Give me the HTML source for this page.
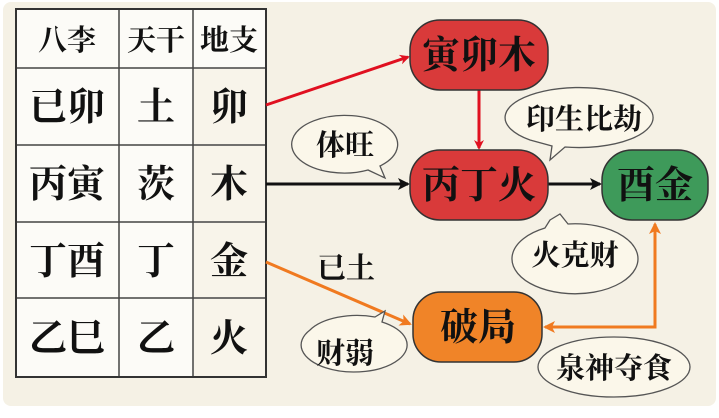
<!DOCTYPE html>
<html><head><meta charset="utf-8"><style>
html,body{margin:0;padding:0;background:#fff;}
body{width:719px;height:413px;position:relative;overflow:hidden;}
svg text{font-family:"Liberation Serif","Noto Serif CJK SC",serif;font-weight:bold;}
</style></head><body>
<svg width="719" height="413" viewBox="0 0 719 413" xmlns="http://www.w3.org/2000/svg">
<defs>
<marker id="ar" markerWidth="10" markerHeight="10" refX="8" refY="5" orient="auto" markerUnits="userSpaceOnUse"><path d="M0,0 L10,5 L0,10 L3,5 z" fill="#e01020"/></marker>
<marker id="ab" markerWidth="12" markerHeight="12" refX="10" refY="6" orient="auto" markerUnits="userSpaceOnUse"><path d="M0,0 L12,6 L0,12 L3,6 z" fill="#111"/></marker>
<marker id="ao" markerWidth="12" markerHeight="12" refX="10" refY="6" orient="auto" markerUnits="userSpaceOnUse"><path d="M0,0 L12,6 L0,12 L3,6 z" fill="#f07a20"/></marker>
</defs>
<rect x="3" y="2" width="713" height="404" rx="8" fill="#f5f1e5"/>
<!-- table -->
<rect x="16" y="9" width="250" height="368" fill="#fcfbf7" stroke="#333" stroke-width="2"/>
<rect x="193" y="68" width="73" height="309" fill="#f8f4ea"/>
<g stroke="#444" stroke-width="1.5">
<line x1="119" y1="9" x2="119" y2="377"/><line x1="193" y1="9" x2="193" y2="377"/>
<line x1="16" y1="68" x2="266" y2="68"/><line x1="16" y1="145" x2="266" y2="145"/>
<line x1="16" y1="222" x2="266" y2="222"/><line x1="16" y1="298" x2="266" y2="298"/>
</g>
<rect x="16" y="9" width="250" height="368" fill="none" stroke="#333" stroke-width="2"/>
<g font-size="29" text-anchor="middle" fill="#111">
<text x="67" y="50">八李</text><text x="156" y="50">天干</text><text x="229" y="50">地支</text>
</g>
<g font-size="38" text-anchor="middle" fill="#111">
<text x="67" y="120">已卯</text><text x="156" y="120">土</text><text x="229" y="120">卯</text>
<text x="67" y="197">丙寅</text><text x="156" y="197">茨</text><text x="229" y="197">木</text>
<text x="67" y="274">丁酉</text><text x="156" y="274">丁</text><text x="229" y="274">金</text>
<text x="67" y="351">乙巳</text><text x="156" y="351">乙</text><text x="229" y="351">火</text>
</g>
<!-- connectors -->
<line x1="266" y1="105" x2="408" y2="57" stroke="#e01020" stroke-width="3" marker-end="url(#ar)"/>
<line x1="479" y1="90" x2="479" y2="148" stroke="#e01020" stroke-width="3" marker-end="url(#ar)"/>
<line x1="266" y1="184" x2="408" y2="184" stroke="#111" stroke-width="3" marker-end="url(#ab)"/>
<line x1="548" y1="184" x2="600" y2="184" stroke="#111" stroke-width="3" marker-end="url(#ab)"/>
<line x1="266" y1="262" x2="410" y2="324" stroke="#f07a20" stroke-width="3" marker-end="url(#ao)"/>
<polyline points="600,327 655,327 655,224" fill="none" stroke="#f07a20" stroke-width="3" marker-end="url(#ao)"/>
<line x1="602" y1="327" x2="545" y2="327" stroke="#f07a20" stroke-width="3" marker-end="url(#ao)"/>
<!-- bubbles -->
<g fill="#fbf7ea" stroke="#555" stroke-width="1.3">
<path d="M300,160 A53,29 0 1 1 380,166 L385,178 L368,170 A53,29 0 0 1 300,160 z"/>
<path d="M530,140 A74,30 0 1 1 565,147 L550,160 L552,146 z"/>
<path d="M550,220 L560,214 L568,224 A63,35 0 1 1 545,228 z"/>
<path d="M310,330 A53,27 0 0 1 375,317 L385,311 L382,322 A53,27 0 1 1 310,330 z"/>
<ellipse cx="614" cy="367" rx="76" ry="30"/>
</g>
<g font-size="29" text-anchor="middle" fill="#111">
<text x="345" y="155">体旺</text>
<text x="584" y="129">印生比劫</text>
<text x="575" y="265">火克财</text>
<text x="345" y="363">财弱</text>
<text x="614" y="378">泉神夺食</text>
<text x="346" y="278">已土</text>
</g>
<!-- nodes -->
<rect x="410" y="20" width="138" height="70" rx="30" fill="#d93a3a" stroke="#333" stroke-width="1.5"/>
<rect x="410" y="150" width="138" height="70" rx="30" fill="#d93a3a" stroke="#333" stroke-width="1.5"/>
<rect x="602" y="150" width="106" height="70" rx="30" fill="#3e9a5a" stroke="#333" stroke-width="1.5"/>
<rect x="413" y="292" width="129" height="70" rx="28" fill="#f08428" stroke="#333" stroke-width="1.5"/>
<g font-size="38" text-anchor="middle" fill="#111">
<text x="479" y="68">寅卯木</text>
<text x="479" y="198">丙丁火</text>
<text x="655" y="198">酉金</text>
<text x="478" y="340">破局</text>
</g>
</svg>
</body></html>
